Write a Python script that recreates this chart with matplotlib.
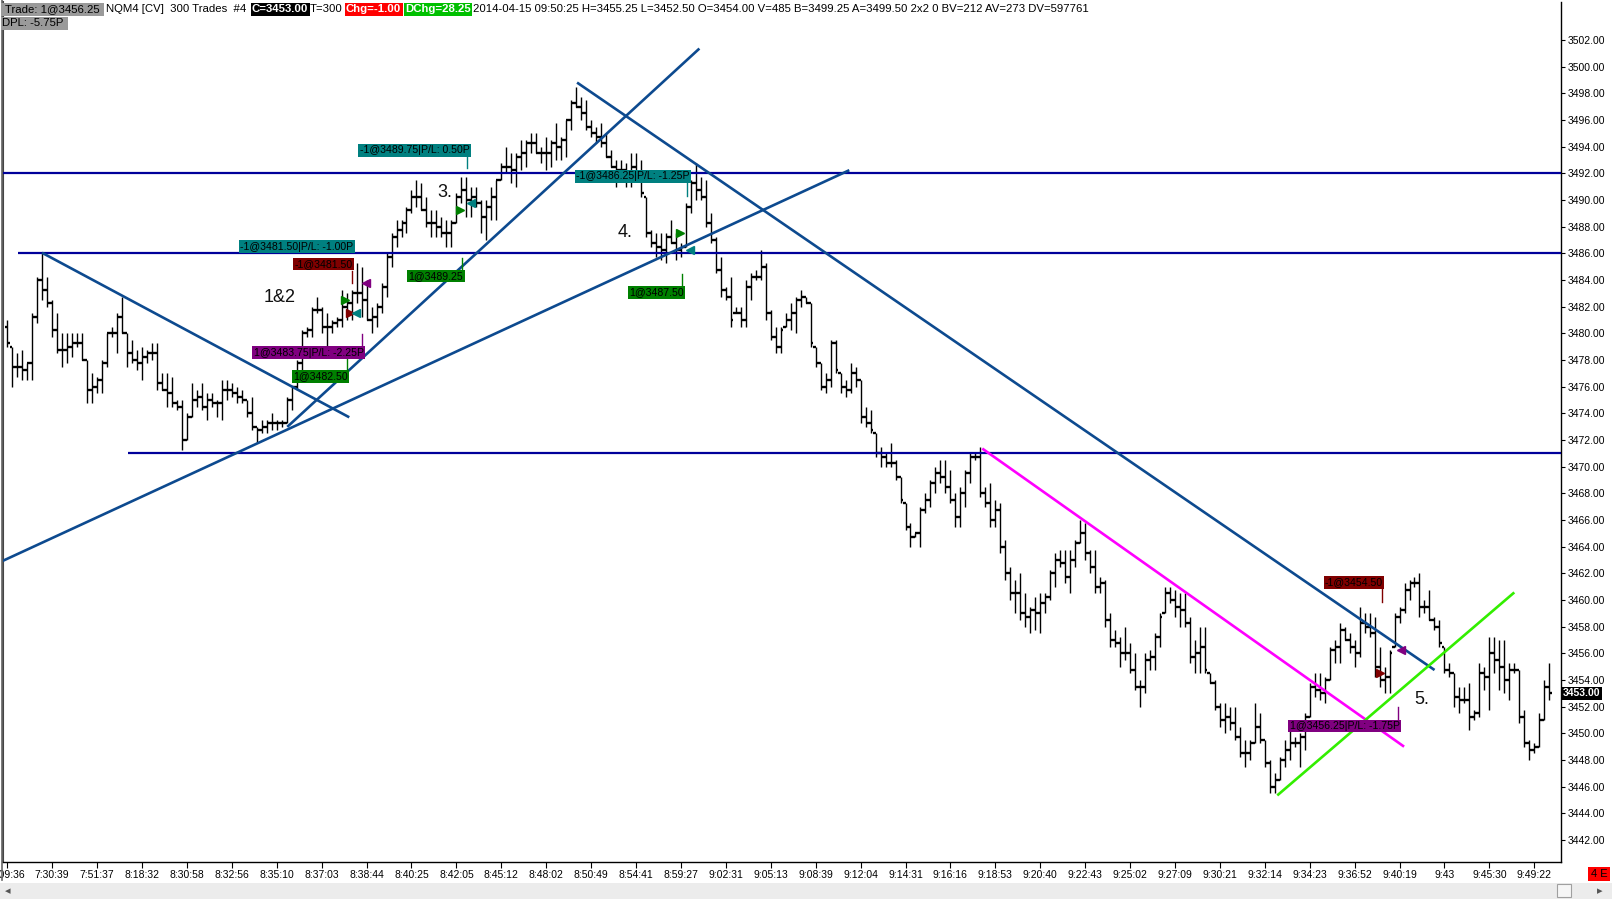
import numpy as np
import matplotlib
matplotlib.use("Agg")
import matplotlib.pyplot as plt
import matplotlib.transforms as mtrans
from matplotlib.patches import Rectangle

plt.rcParams['font.family'] = ['Liberation Sans', 'DejaVu Sans']

# --- bar data (300-trade bars, NQM4) ---
highs = [
    3481.0, 3479.0, 3478.5, 3478.75, 3477.75, 3481.5, 3484.25, 3486.0, 3484.25, 3482.5,
    3481.5, 3480.0, 3480.0, 3480.0, 3480.0, 3480.0, 3478.0, 3477.0, 3476.75, 3478.0,
    3480.0, 3480.5, 3481.5, 3482.75, 3480.0, 3479.5, 3478.75, 3479.0, 3478.75, 3479.25,
    3479.25, 3477.0, 3477.0, 3476.75, 3475.0, 3475.0, 3474.0, 3476.25, 3475.75, 3476.25,
    3475.5, 3475.5, 3475.0, 3476.5, 3476.5, 3476.25, 3476.0, 3475.75, 3475.0, 3475.25,
    3473.0, 3473.5, 3473.5, 3474.0, 3473.5, 3473.5, 3475.25, 3476.0, 3478.0, 3480.25,
    3480.5, 3482.0, 3482.75, 3482.0, 3481.5, 3481.0, 3481.25, 3483.25, 3483.0, 3483.25,
    3485.25, 3485.0, 3484.0, 3482.0, 3482.25, 3483.75, 3486.0, 3487.5, 3488.5, 3488.5,
    3489.5, 3490.75, 3491.5, 3491.25, 3490.25, 3489.25, 3489.25, 3488.75, 3488.5, 3488.5,
    3490.5, 3491.75, 3491.75, 3491.0, 3491.0, 3490.0, 3490.0, 3491.0, 3491.5, 3492.75,
    3494.0, 3493.5, 3493.5,
    3494.5, 3494.5, 3495.0, 3495.0, 3494.0, 3494.75, 3494.5, 3495.75, 3494.75, 3496.0,
    3497.5, 3498.5, 3497.75, 3497.5, 3496.0, 3495.5, 3495.75, 3495.0, 3493.75, 3493.0,
    3493.0, 3492.75, 3493.5, 3493.5, 3493.0, 3490.25, 3487.75, 3487.5, 3487.5, 3487.5,
    3488.5, 3487.5, 3486.75, 3489.75, 3491.5, 3492.75, 3491.75, 3491.5, 3489.0, 3487.25,
    3485.75, 3483.5, 3484.25, 3482.0, 3482.0, 3484.0, 3484.5, 3484.75, 3486.25, 3485.25,
    3481.75, 3480.5, 3480.5, 3481.5, 3482.25, 3482.75, 3483.25, 3482.75, 3482.25, 3479.0,
    3477.75, 3477.0, 3479.5, 3479.5, 3477.0, 3476.5, 3477.75, 3477.5, 3476.5, 3474.5,
    3474.25, 3472.5, 3471.5, 3471.0, 3471.75, 3470.5, 3469.25, 3467.25, 3465.75, 3465.0,
    3467.0, 3468.0, 3469.0, 3470.0, 3470.5, 3470.5, 3469.75, 3468.0, 3468.5, 3469.75,
    3471.0, 3471.0, 3471.5, 3468.5, 3468.75, 3467.5, 3467.25, 3464.5, 3462.5, 3461.5,
    3462.0, 3460.5, 3459.5, 3460.25,
    3460.5, 3460.5, 3462.25, 3463.5, 3463.75, 3463.75, 3463.75, 3464.5, 3466.0, 3465.75,
    3463.75, 3463.75, 3461.75, 3461.5, 3459.0, 3457.75, 3457.25, 3458.0, 3456.75, 3456.0,
    3454.0, 3456.0, 3456.25, 3457.5, 3459.0, 3461.0, 3461.0, 3460.75, 3460.5, 3460.5,
    3458.75, 3457.0, 3458.0, 3458.0, 3454.5, 3454.0, 3452.25, 3452.25, 3452.0, 3452.0,
    3450.5, 3449.5, 3449.5, 3452.25, 3451.5, 3449.5, 3448.0, 3447.0, 3448.25, 3449.5,
    3450.25, 3449.75, 3450.0, 3451.5, 3453.75, 3454.5, 3454.5, 3454.25, 3456.5, 3457.0,
    3458.25, 3458.0, 3457.5, 3457.0, 3459.5, 3459.0, 3459.0, 3458.75, 3456.5, 3455.0,
    3456.25, 3459.0, 3459.5, 3461.25, 3461.5, 3461.75, 3462.0, 3460.0, 3460.75, 3458.75,
    3458.5, 3456.5, 3455.25, 3454.5, 3453.5, 3453.5, 3453.75, 3451.75, 3455.25, 3455.0,
    3457.25, 3457.25, 3457.0, 3457.0, 3455.25, 3455.25, 3454.75, 3451.75, 3449.5, 3449.25,
    3451.5, 3454.0, 3455.25,
]
lows = [
    3479.0, 3476.0, 3476.75, 3476.5, 3476.5, 3476.5, 3480.75, 3482.5, 3482.0, 3479.75,
    3478.5, 3477.5, 3477.75, 3478.25, 3479.0, 3478.0, 3474.75, 3474.75, 3475.5, 3475.5,
    3477.5, 3479.75, 3478.5, 3480.0, 3477.5, 3477.75, 3477.25, 3476.5, 3477.75, 3478.0,
    3475.75, 3475.75, 3474.5, 3474.5, 3474.25, 3471.25, 3472.0, 3473.75, 3474.5, 3474.25,
    3473.5, 3474.5, 3473.75, 3473.5, 3475.0, 3475.25, 3474.75, 3474.75, 3473.75, 3472.75,
    3471.75, 3472.5, 3472.5, 3472.75, 3472.75, 3473.0, 3473.25, 3474.25, 3475.75, 3477.25,
    3479.75, 3479.75, 3481.5, 3480.0, 3479.0, 3480.0, 3480.5, 3480.5, 3481.0, 3481.0,
    3482.25, 3481.25, 3481.0, 3480.0, 3480.5, 3481.5, 3482.75, 3485.0, 3486.5, 3487.25,
    3487.5, 3489.0, 3489.5, 3489.25, 3488.0, 3487.25, 3487.25, 3487.25, 3486.5, 3486.5,
    3488.25, 3489.75, 3488.75, 3488.75, 3489.5, 3487.5, 3487.0, 3488.5, 3488.5, 3491.5,
    3492.0, 3491.25, 3491.0,
    3492.25, 3492.5, 3493.5, 3493.5, 3492.75, 3492.25, 3492.5, 3493.0, 3493.0, 3493.25,
    3495.25, 3497.0, 3496.0, 3495.25, 3494.75, 3494.25, 3494.0, 3493.25, 3492.5, 3491.0,
    3492.25, 3491.0, 3491.0, 3491.75, 3490.25, 3487.25, 3486.5, 3485.75, 3485.5, 3485.25,
    3486.75, 3485.5, 3485.75, 3486.5, 3489.0, 3490.0, 3490.0, 3488.0, 3486.75, 3484.5,
    3482.75, 3482.5, 3480.5, 3481.5, 3480.5, 3480.5, 3482.5, 3484.0, 3484.0, 3481.0,
    3479.5, 3478.5, 3478.5, 3480.5, 3480.25, 3480.0, 3482.0, 3482.25, 3479.0, 3477.5,
    3475.75, 3475.5, 3476.0, 3477.0, 3475.5, 3475.25, 3475.5, 3476.0, 3473.25, 3473.0,
    3472.5, 3470.75, 3470.0, 3470.0, 3470.0, 3469.0, 3467.25, 3465.25, 3464.0, 3464.75,
    3464.0, 3466.5, 3467.0, 3468.0, 3468.75, 3468.0, 3467.25, 3465.5, 3465.5, 3467.0,
    3468.75, 3470.5, 3467.75, 3467.0, 3465.5, 3465.5, 3463.5, 3461.5, 3460.0, 3459.0,
    3458.5, 3458.0, 3457.5, 3457.75,
    3457.5, 3459.0, 3460.0, 3461.0, 3462.5, 3461.25, 3460.5, 3462.5, 3464.25, 3463.0,
    3462.0, 3460.5, 3460.5, 3458.0, 3456.5, 3456.5, 3455.0, 3455.5, 3454.5, 3453.25,
    3452.0, 3453.0, 3454.75, 3454.75, 3456.5, 3459.0, 3459.75, 3458.75, 3458.0, 3458.0,
    3455.25, 3454.5, 3454.5, 3454.5, 3453.75, 3451.75, 3450.5, 3450.0, 3450.25, 3449.5,
    3448.25, 3447.5, 3448.0, 3449.25, 3449.25, 3447.5, 3445.5, 3445.5, 3446.5, 3447.5,
    3448.0, 3449.0, 3447.5, 3448.75, 3451.25, 3452.75, 3452.5, 3452.25, 3454.0, 3455.25,
    3455.25, 3457.0, 3456.0, 3455.0, 3455.75, 3457.5, 3457.25, 3454.25, 3453.5, 3453.0,
    3453.0, 3456.5, 3458.25, 3459.0, 3460.0, 3461.0, 3458.75, 3459.0, 3458.5, 3457.75,
    3456.5, 3454.5, 3454.25, 3452.0, 3451.5, 3452.25, 3450.25, 3451.0, 3451.25, 3453.25,
    3451.75, 3454.5, 3453.25, 3453.0, 3452.5, 3454.5, 3450.75, 3449.0, 3448.0, 3448.5,
    3449.0, 3451.0, 3452.5,
]
closes = [
    3479.25, 3477.5, 3477.5, 3477.25, 3477.75, 3481.25, 3484.0, 3483.25, 3482.25, 3480.25,
    3478.75, 3478.75, 3479.0, 3479.25, 3479.25, 3478.0, 3475.75, 3476.0, 3476.5, 3477.75,
    3480.0, 3480.0, 3481.25, 3480.0, 3478.5, 3478.0, 3477.75, 3478.25, 3478.5, 3478.5,
    3476.25, 3475.75, 3475.5, 3474.75, 3474.5, 3472.0, 3473.75, 3475.0, 3475.25, 3474.5,
    3475.0, 3474.75, 3474.75, 3475.75, 3475.75, 3475.5, 3475.25, 3475.0, 3474.0, 3473.0,
    3472.75, 3473.0, 3473.25, 3473.25, 3473.25, 3473.25, 3475.0, 3476.0, 3477.75, 3480.0,
    3480.25, 3481.75, 3481.75, 3480.5, 3480.5, 3480.75, 3481.0, 3482.0, 3482.25, 3483.0,
    3483.0, 3482.5, 3481.0, 3481.25, 3482.0, 3483.5, 3485.75, 3487.25, 3487.75, 3488.25,
    3489.25, 3490.25, 3490.25, 3489.25, 3488.25, 3488.25, 3488.0, 3487.5, 3487.5, 3488.25,
    3490.25, 3490.75, 3490.0, 3490.25, 3489.75, 3488.75, 3489.5, 3490.25, 3491.5, 3492.5,
    3492.5, 3492.25, 3493.25,
    3493.5, 3494.25, 3494.25, 3493.5, 3493.5, 3493.5, 3494.25, 3494.0, 3494.5, 3496.0,
    3497.25, 3497.0, 3496.5, 3495.5, 3495.0, 3494.75, 3494.25, 3493.25, 3492.5, 3492.25,
    3492.25, 3492.0, 3492.5, 3492.0, 3490.5, 3487.5, 3486.75, 3486.5, 3486.25, 3487.25,
    3486.75, 3486.25, 3486.5, 3489.5, 3491.25, 3490.75, 3490.25, 3488.25, 3487.0, 3484.75,
    3483.25, 3482.75, 3481.0, 3481.5, 3481.0, 3483.5, 3484.25, 3484.25, 3485.0, 3481.5,
    3479.75, 3479.0, 3480.25, 3481.0, 3481.5, 3482.5, 3482.75, 3482.25, 3479.25, 3477.75,
    3476.0, 3476.5, 3479.25, 3477.25, 3476.0, 3475.75, 3477.0, 3476.5, 3473.75, 3473.25,
    3472.75, 3471.0, 3470.75, 3470.25, 3470.25, 3469.25, 3467.5, 3465.5, 3464.75, 3465.0,
    3466.75, 3467.5, 3468.75, 3469.5, 3469.25, 3468.5, 3467.5, 3466.25, 3468.0, 3469.5,
    3470.75, 3470.75, 3468.0, 3467.25, 3466.0, 3466.75, 3464.0, 3462.0, 3460.5, 3460.5,
    3459.0, 3458.75, 3459.25, 3459.0,
    3459.75, 3460.25, 3462.0, 3463.0, 3462.75, 3461.75, 3463.0, 3464.25, 3465.0, 3463.5,
    3462.5, 3461.0, 3461.25, 3458.5, 3457.0, 3456.75, 3456.0, 3456.0, 3454.75, 3453.5,
    3453.5, 3455.5, 3455.75, 3457.25, 3458.75, 3460.5, 3460.0, 3459.5, 3459.25, 3458.25,
    3455.75, 3456.0, 3456.5, 3454.75, 3453.75, 3452.0, 3451.0, 3451.25, 3450.75, 3449.75,
    3448.5, 3448.5, 3449.25, 3450.5, 3449.5, 3447.75, 3446.0, 3446.5, 3448.0, 3448.75,
    3449.25, 3449.25, 3449.75, 3451.25, 3453.5, 3453.25, 3453.0, 3454.0, 3456.25, 3456.5,
    3457.75, 3457.0, 3456.5, 3456.0, 3458.25, 3458.0, 3457.5, 3455.0, 3454.0, 3454.25,
    3456.0, 3458.75, 3459.25, 3460.75, 3461.25, 3461.25, 3459.5, 3459.5, 3458.5, 3458.0,
    3456.75, 3454.75, 3454.5, 3452.75, 3452.5, 3452.5, 3451.25, 3451.5, 3454.5, 3454.25,
    3456.0, 3455.5, 3455.0, 3454.0, 3454.75, 3454.75, 3451.25, 3449.25, 3448.75, 3449.0,
    3451.0, 3453.5, 3453.0,
]
first_open = 3480.5

time_labels = ["7:09:36", "7:30:39", "7:51:37", "8:18:32", "8:30:58", "8:32:56", "8:35:10",
               "8:37:03", "8:38:44", "8:40:25", "8:42:05", "8:45:12", "8:48:02", "8:50:49",
               "8:54:41", "8:59:27", "9:02:31", "9:05:13", "9:08:39", "9:12:04", "9:14:31",
               "9:16:16", "9:18:53", "9:20:40", "9:22:43", "9:25:02", "9:27:09", "9:30:21",
               "9:32:14", "9:34:23", "9:36:52", "9:40:19", "9:43", "9:45:30", "9:49:22"]
bars_per_label = 9
price_ticks = list(range(3442, 3503, 2))
last_price = 3453.00

# drawing objects (bar index, price)
h_levels = [3492.0, 3486.0, 3471.0]
h_starts = [-1.0, 2.2, 24.2]
trend_lines = [
    (7.2, 3486.0, 68.3, 3473.75, "#0d4a8f"),
    (-1.1, 3462.9, 168.5, 3492.2, "#0d4a8f"),
    (56.3, 3473.05, 138.5, 3501.3, "#0d4a8f"),
    (114.4, 3498.76, 285.8, 3454.8, "#0d4a8f"),
    (195.6, 3471.3, 279.7, 3449.05, "#ff00ff"),
    (254.7, 3445.4, 301.8, 3460.5, "#33ee00"),
]
TEAL, DRED, PURP, GRN = "#008080", "#800000", "#800080", "#008000"
trade_labels = [
    ("-1@3489.75|P/L: 0.50P", 92.6, 3493.73, TEAL),
    ("-1@3481.50|P/L: -1.00P", 69.4, 3486.5, TEAL),
    ("-1@3481.50", 69.2, 3485.2, DRED),
    ("1@3483.75|P/L: -2.25P", 71.4, 3478.55, PURP),
    ("1@3482.50", 68.3, 3476.76, GRN),
    ("1@3489.25", 91.4, 3484.3, GRN),
    ("-1@3486.25|P/L: -1.25P", 136.7, 3491.77, TEAL),
    ("1@3487.50", 135.5, 3483.07, GRN),
    ("-1@3454.50", 275.7, 3461.3, DRED),
    ("1@3456.25|P/L: -1.75P", 279.0, 3450.56, PURP),
]
connectors = [
    (92.2, 3493.25, 3492.4, TEAL), (69.1, 3484.7, 3483.75, DRED),
    (71.1, 3479.95, 3479.0, PURP), (68.1, 3478.15, 3477.2, GRN),
    (91.2, 3485.65, 3484.75, GRN), (136.3, 3491.3, 3490.3, TEAL),
    (135.3, 3484.45, 3483.55, GRN), (275.5, 3460.8, 3459.87, DRED),
    (278.6, 3452.0, 3451.05, PURP),
]
fills = [
    (67.7, 3482.5, ">", GRN), (68.7, 3481.5, ">", DRED), (69.9, 3481.5, "<", TEAL),
    (71.9, 3483.75, "<", PURP), (90.7, 3489.25, ">", GRN), (92.9, 3489.75, "<", TEAL),
    (134.8, 3487.5, ">", GRN), (136.9, 3486.25, "<", TEAL), (275.1, 3454.5, ">", DRED),
    (279.2, 3456.25, "<", PURP),
]
notes = [("1&2", 54.6, 3482.7), ("3.", 87.7, 3490.6), ("4.", 123.9, 3487.6), ("5.", 283.4, 3452.55)]

# --- figure ---
W, H = 1612, 901
fig = plt.figure(figsize=(W / 100, H / 100), dpi=100)
fig.patch.set_facecolor("white")
ax = fig.add_axes([3 / W, 1 - 862 / H, (1561 - 3) / W, (862 - 2) / H])
ax.set_xlim(-0.86, 311.36)
ax.set_ylim(3440.34, 3504.86)

n = len(closes)
x = np.arange(n)
hi = np.array(highs)
lo = np.array(lows)
cl = np.array(closes)
op = np.clip(np.array([first_open] + closes[:-1]), lo, hi)

ax.vlines(x, lo, hi, color="black", lw=1.0, zorder=3)
ax.hlines(op, x - 0.5, x, color="black", lw=1.7, zorder=3)
ax.hlines(cl, x, x + 0.5, color="black", lw=1.7, zorder=3)

for lev, st in zip(h_levels, h_starts):
    ax.plot([st, 311.36], [lev, lev], color="#00009a", lw=1.6, zorder=4, solid_capstyle="butt")
for x0, y0, x1, y1, c in trend_lines:
    ax.plot([x0, x1], [y0, y1], color=c, lw=1.9, zorder=4)

for xi, p0, p1, c in connectors:
    ax.plot([xi, xi], [p0, p1], color=c, lw=1.0, zorder=5)
for xi, p, m, c in fills:
    ax.plot(xi, p, marker=m, color=c, markersize=5.5, zorder=6, linestyle="none")
for txt, xi, p, c in trade_labels:
    ax.text(xi, p, txt, ha="right", va="center", fontsize=7.6, color="black", zorder=7,
            bbox=dict(boxstyle="square,pad=0.12", fc=c, ec="none"))
for txt, xi, p in notes:
    ax.text(xi, p, txt, ha="center", va="center", fontsize=13, color="#111111", zorder=7)

# axes styling
ax.spines["top"].set_visible(False)
ax.spines["left"].set_color("#444444")
ax.spines["left"].set_linewidth(1.5)
ax.spines["right"].set_linewidth(1.0)
ax.spines["bottom"].set_linewidth(1.0)
ax.yaxis.tick_right()
ax.set_yticks(price_ticks)
ax.set_yticklabels([f"{v:.2f}" for v in price_ticks], fontsize=7.5)
ax.tick_params(axis="y", direction="out", length=3, width=0.8, pad=1.5)
tick_pos = list(range(0, bars_per_label * len(time_labels), bars_per_label))
ax.set_xticks(tick_pos)
ax.set_xticklabels(time_labels, fontsize=7.5)
ax.tick_params(axis="x", direction="out", length=4, width=0.8, pad=2)

blend = mtrans.blended_transform_factory(ax.transAxes, ax.transData)
ax.text(1.0012, last_price, f"{last_price:.2f}", transform=blend, ha="left", va="center",
        fontsize=7.5, fontweight="bold", color="white", zorder=8,
        bbox=dict(boxstyle="square,pad=0.15", fc="black", ec="none"))


# --- header line ---
def hdr(xp, yp, s, fc=None, col="black", bold=False):
    kw = {}
    if fc is not None:
        kw["bbox"] = dict(boxstyle="square,pad=0.12", fc=fc, ec="none")
    fig.text(xp / W, 1 - yp / H, s, ha="left", va="center", fontsize=8.2, color=col,
             fontweight="bold" if bold else "normal", **kw)


hdr(2, 9.5, " Trade: 1@3456.25 ", fc="#9a9a9a")
hdr(2, 23.5, "DPL: -5.75P ", fc="#9a9a9a")
hdr(106, 9.5, "NQM4 [CV]  300 Trades  #4")
hdr(252, 9.5, "C=3453.00", fc="black", col="white", bold=True)
hdr(310, 9.5, "T=300")
hdr(346, 9.5, "Chg=-1.00", fc="#ff0000", col="white", bold=True)
hdr(405, 9.5, "DChg=28.25", fc="#00c000", col="white", bold=True)
hdr(473, 9.5, "2014-04-15 09:50:25 H=3455.25 L=3452.50 O=3454.00 V=485 B=3499.25 "
              "A=3499.50 2x2 0 BV=212 AV=273 DV=597761")

# --- bottom scrollbar and status box ---
fig.patches.append(Rectangle((0, 1 - 899 / H), 1, 16 / H, transform=fig.transFigure,
                             fc="#ececec", ec="none"))
fig.patches.append(Rectangle((1557 / W, 1 - 897 / H), 14 / W, 13 / H, transform=fig.transFigure,
                             fc="#f6f6f6", ec="#a0a0a0", lw=0.8))
fig.text(8 / W, 1 - 891 / H, "\u25c2", fontsize=8, color="#555555", ha="center", va="center",
         fontfamily="DejaVu Sans")
fig.text(1600 / W, 1 - 891 / H, "\u25b8", fontsize=8, color="#555555", ha="center", va="center",
         fontfamily="DejaVu Sans")
fig.text(1599 / W, 1 - 874 / H, "4 E", fontsize=8, color="black", ha="center", va="center",
         bbox=dict(boxstyle="square,pad=0.2", fc="#ff0000", ec="none"))
fig.add_artist(plt.Line2D([1.5 / W, 1.5 / W], [1 - 880 / H, 1], transform=fig.transFigure,
                          color="#666666", lw=1.2))

fig.savefig("out.png", dpi=100, facecolor="white")
